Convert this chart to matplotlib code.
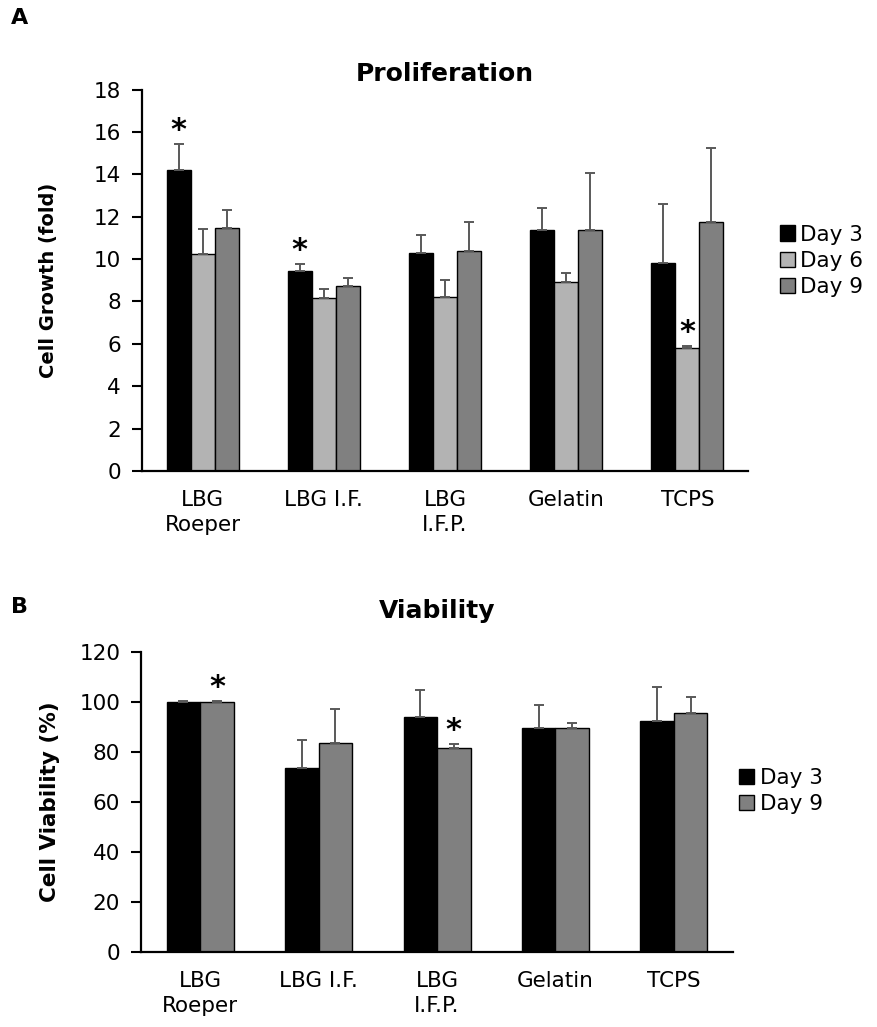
import numpy as np
import matplotlib
matplotlib.use("Agg")
import matplotlib.pyplot as plt

# values
groups = ["LBG\nRoeper", "LBG I.F.", "LBG\nI.F.P.", "Gelatin", "TCPS"]

prolif_d3 = [14.2, 9.45, 10.3, 11.35, 9.8]
prolif_d6 = [10.25, 8.15, 8.2, 8.9, 5.8]
prolif_d9 = [11.45, 8.75, 10.4, 11.35, 11.75]
prolif_d3_err = [1.25, 0.33, 0.85, 1.05, 2.8]
prolif_d6_err = [1.15, 0.42, 0.8, 0.45, 0.1]
prolif_d9_err = [0.85, 0.36, 1.35, 2.7, 3.5]

viab_d3 = [100.0, 73.6, 94.0, 89.6, 92.2]
viab_d9 = [100.0, 83.6, 81.6, 89.6, 95.5]
viab_d3_err = [0.3, 11.1, 10.6, 9.0, 13.7]
viab_d9_err = [0.3, 13.6, 1.5, 2.0, 6.4]

# (group, series) pairs flagged with an asterisk
prolif_stars = [(0, 0), (1, 0), (4, 1)]
viab_stars = [(0, 1), (2, 1)]

colors3 = ["#000000", "#b3b3b3", "#808080"]
colors2 = ["#000000", "#808080"]
err_color = "#595959"

plt.rcParams["font.family"] = "DejaVu Sans"
fs = 15.5

fig = plt.figure(figsize=(8.77, 10.27), dpi=100)


def draw(ax, series, errs, colors, labels, width, stars):
    x = np.arange(len(groups))
    n = len(series)
    tops = []
    for i, (vals, err, c, lab) in enumerate(zip(series, errs, colors, labels)):
        pos = x + (i - (n - 1) / 2) * width
        ax.bar(pos, vals, width, color=c, edgecolor="black", linewidth=1.0,
               label=lab, zorder=2)
        ax.errorbar(pos, vals, yerr=[np.zeros(len(vals)), err], fmt="none",
                    ecolor=err_color, elinewidth=1.4, capsize=3.5,
                    capthick=1.4, zorder=3)
        tops.append((pos, np.array(vals) + np.array(err)))
    for g, s in stars:
        pos, top = tops[s]
        ax.annotate("*", (pos[g], top[g]), xytext=(0, -1),
                    textcoords="offset points", ha="center", va="bottom",
                    fontsize=22, fontweight="bold")
    ax.set_xticks(x)
    ax.set_xticklabels(groups, fontsize=fs, linespacing=1.3)
    ax.tick_params(axis="x", length=0, pad=14)
    ax.tick_params(axis="y", labelsize=fs, length=7, width=1.5, pad=8)
    ax.set_xlim(-0.5, len(groups) - 0.5)
    for sp in ["top", "right"]:
        ax.spines[sp].set_visible(False)
    for sp in ["left", "bottom"]:
        ax.spines[sp].set_linewidth(1.6)


# A: proliferation
ax1 = fig.add_axes([0.1619, 0.5414, 0.691, 0.3714])
draw(ax1, [prolif_d3, prolif_d6, prolif_d9],
     [prolif_d3_err, prolif_d6_err, prolif_d9_err],
     colors3, ["Day 3", "Day 6", "Day 9"], 0.198, prolif_stars)
ax1.set_ylim(0, 18)
ax1.set_yticks(range(0, 19, 2))
ax1.set_ylabel("Cell Growth (fold)", fontsize=14, fontweight="bold", labelpad=26)
ax1.set_title("Proliferation", fontsize=18, fontweight="bold", pad=6)
ax1.legend(loc="center left", bbox_to_anchor=(0.889, 0.7459),
           bbox_transform=fig.transFigure, frameon=False, fontsize=fs,
           handlelength=0.7, handleheight=0.7, handletextpad=0.25,
           labelspacing=0.3, borderaxespad=0, borderpad=0)

# B: viability
ax2 = fig.add_axes([0.1608, 0.0733, 0.675, 0.2921])
draw(ax2, [viab_d3, viab_d9], [viab_d3_err, viab_d9_err],
     colors2, ["Day 3", "Day 9"], 0.283, viab_stars)
ax2.set_ylim(0, 120)
ax2.set_yticks(range(0, 121, 20))
ax2.set_ylabel("Cell Viability (%)", fontsize=15.5, fontweight="bold", labelpad=14)
ax2.set_title("Viability", fontsize=18, fontweight="bold", pad=24)
ax2.legend(loc="center left", bbox_to_anchor=(0.843, 0.2298),
           bbox_transform=fig.transFigure, frameon=False, fontsize=fs,
           handlelength=0.7, handleheight=0.7, handletextpad=0.25,
           labelspacing=0.3, borderaxespad=0, borderpad=0)

fig.text(0.012, 0.982, "A", fontsize=16, fontweight="bold", va="center")
fig.text(0.012, 0.409, "B", fontsize=16, fontweight="bold", va="center")

fig.savefig("out.png", dpi=100)
